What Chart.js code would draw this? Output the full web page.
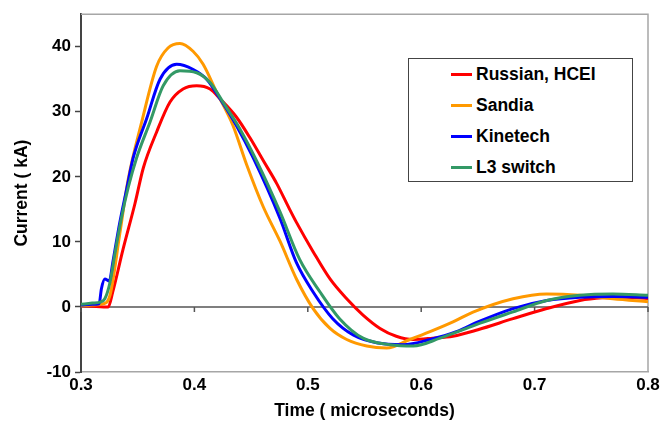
<!DOCTYPE html>
<html>
<head>
<meta charset="utf-8">
<script src="https://cdn.jsdelivr.net/npm/chart.js@4/dist/chart.umd.min.js"></script>
<style>
  html, body { margin: 0; padding: 0; background: #fff; }
  #wrap { position: relative; width: 669px; height: 429px; }
  canvas { position: absolute; left: 0; top: 0; }
  #legend { position: absolute; left: 408px; top: 58px; width: 223px; height: 122px;
            border: 1.5px solid #444; background: #fff; box-sizing: content-box;
            font: bold 17.5px "Liberation Sans", Arial, sans-serif; color: #000; }
  .row { position: absolute; left: 0; height: 20px; width: 100%; }
  .swatch { position: absolute; left: 42px; top: 9px; width: 21px; height: 3px; }
  .lbl { position: absolute; left: 67px; top: 0; white-space: nowrap; line-height: 20px; }
</style>
</head>
<body>
<div id="wrap">
  <canvas id="c" width="669" height="429"></canvas>
  <div id="legend"></div>
</div>
<script>
// ---- data ----
const seriesNames = ["Russian, HCEI", "Sandia", "Kinetech", "L3 switch"];
const seriesColors = ["#ff0000", "#ff9900", "#0000ff", "#339966"];

const russianX = [0.300,0.310,0.320,0.324,0.328,0.337,0.3476,0.355,0.3667,0.3785,0.390,0.402,0.4138,0.4226,0.437,0.449,0.4607,0.4725,0.484,0.490,0.5047,0.5196,0.5343,0.5487,0.5637,0.578,0.593,0.610,0.628,0.650,0.681,0.7107,0.740,0.760,0.780,0.800];
const russianY = [0.2,0.1,0.0,0.0,2.3,8.8,15.9,21.4,26.9,31.5,33.5,34.0,33.5,32.0,29.2,26.0,22.5,19.0,15.0,13.0,8.5,4.3,1.25,-1.25,-3.3,-4.5,-5.0,-4.8,-4.5,-3.5,-1.8,-0.25,1.0,1.4,1.5,1.3];

const sandiaX = [0.300,0.310,0.320,0.3256,0.334,0.3415,0.3535,0.3667,0.3767,0.3873,0.3988,0.4077,0.4196,0.434,0.446,0.4607,0.4755,0.490,0.5047,0.5196,0.5343,0.552,0.5696,0.590,0.6078,0.628,0.6457,0.681,0.7107,0.740,0.769,0.800];
const sandiaY = [0.2,0.3,0.5,1.8,11.0,19.5,28.4,37.0,39.8,40.5,39.3,37.3,33.0,27.9,21.9,15.4,10.1,4.3,-0.25,-3.3,-5.0,-6.0,-6.3,-5.0,-3.8,-2.3,-0.8,1.25,2.0,1.8,1.25,0.8];

const kinetechX = [0.300,0.310,0.316,0.318,0.321,0.325,0.328,0.334,0.340,0.346,0.358,0.3697,0.3844,0.399,0.4108,0.4226,0.437,0.4519,0.4755,0.490,0.5047,0.522,0.540,0.5607,0.584,0.608,0.631,0.650,0.681,0.7107,0.740,0.769,0.800];
const kinetechY = [0.3,0.4,0.5,2.8,4.3,4.0,6.8,12.8,17.9,22.9,29.0,35.0,37.3,36.5,35.0,32.0,27.9,22.9,13.6,6.8,2.3,-1.8,-4.3,-5.5,-5.8,-5.0,-3.8,-2.3,-0.25,1.0,1.5,1.6,1.5];

const l3X = [0.300,0.310,0.3168,0.321,0.3256,0.330,0.3359,0.3417,0.349,0.3608,0.3725,0.3873,0.402,0.4138,0.4255,0.440,0.455,0.4755,0.4928,0.5108,0.528,0.5487,0.5725,0.593,0.6166,0.640,0.652,0.681,0.7107,0.740,0.769,0.800];
const l3Y = [0.4,0.6,0.75,1.25,3.8,8.3,13.9,18.4,22.9,28.4,34.0,36.3,36.0,34.5,31.4,27.4,22.4,14.6,7.3,2.3,-1.8,-4.8,-5.8,-6.0,-4.8,-3.3,-2.5,-0.75,1.0,1.8,2.0,1.8];

const xTicks = [0.3, 0.4, 0.5, 0.6, 0.7, 0.8];
const yTicks = [-10, 0, 10, 20, 30, 40];

const xTitle = "Time ( microseconds)";
const yTitle = "Current ( kA)";

// ---- build ----
const xsList = [russianX, sandiaX, kinetechX, l3X];
const ysList = [russianY, sandiaY, kinetechY, l3Y];
const datasets = seriesNames.map((name, i) => ({
  label: name,
  data: xsList[i].map((x, k) => ({ x: x, y: ysList[i][k] })),
  borderColor: seriesColors[i],
  backgroundColor: seriesColors[i],
  borderWidth: 3,
  pointRadius: 0,
  fill: false,
  cubicInterpolationMode: 'monotone',
  order: seriesNames.length - i
}));

const FONT = "'Liberation Sans', Arial, sans-serif";

const framePlugin = {
  id: 'frame',
  beforeDatasetsDraw(chart) {
    const { ctx, chartArea: a, scales } = chart;
    ctx.save();
    ctx.strokeStyle = '#a6a6a6';
    ctx.lineWidth = 1.5;
    ctx.beginPath();
    ctx.moveTo(a.left, a.top); ctx.lineTo(a.right, a.top); ctx.lineTo(a.right, a.bottom);
    ctx.stroke();
    const y0 = scales.y.getPixelForValue(0);
    ctx.strokeStyle = '#555';
    ctx.lineWidth = 1.5;
    ctx.beginPath();
    ctx.moveTo(a.left, y0); ctx.lineTo(a.right, y0);
    xTicks.forEach(v => {
      const px = scales.x.getPixelForValue(v);
      ctx.moveTo(px, y0); ctx.lineTo(px, y0 + 5);
    });
    ctx.stroke();
    ctx.restore();
  }
};

new Chart(document.getElementById('c'), {
  type: 'line',
  data: { datasets },
  plugins: [framePlugin],
  options: {
    responsive: false,
    animation: false,
    layout: { padding: { left: 0, top: 7, right: 21, bottom: 0 } },
    plugins: { legend: { display: false }, tooltip: { enabled: false } },
    scales: {
      x: {
        type: 'linear',
        min: 0.3, max: 0.8,
        afterBuildTicks: s => { s.ticks = xTicks.map(v => ({ value: v })); },
        afterFit: s => { s.height = 57; },
        ticks: {
          callback: v => Number(v).toFixed(1),
          font: { family: FONT, size: 17, weight: 'bold' },
          color: '#000', padding: 3, maxRotation: 0
        },
        grid: { display: false, drawTicks: false },
        border: { display: true, color: '#a6a6a6', width: 1.5 },
        title: {
          display: true, text: xTitle,
          font: { family: FONT, size: 17.5, weight: 'bold' }, color: '#000',
          padding: { top: 10, bottom: 7 }
        }
      },
      y: {
        type: 'linear',
        min: -10, max: 45,
        afterBuildTicks: s => { s.ticks = yTicks.map(v => ({ value: v })); },
        afterFit: s => { s.width = 81; },
        ticks: {
          font: { family: FONT, size: 17, weight: 'bold' },
          color: '#000', padding: 4
        },
        grid: { drawOnChartArea: false, drawTicks: true, tickLength: 6, tickColor: '#444', tickWidth: 1.5 },
        border: { display: true, color: '#444', width: 2 },
        title: {
          display: true, text: yTitle,
          font: { family: FONT, size: 17.5, weight: 'bold' }, color: '#000',
          padding: { top: 12, bottom: 6 }
        }
      }
    }
  }
});

// HTML legend built from the series
const leg = document.getElementById('legend');
const rowTops = [5, 36, 67, 98];
seriesNames.forEach((name, i) => {
  const r = document.createElement('div');
  r.className = 'row';
  r.style.top = rowTops[i] + 'px';
  r.innerHTML = '<span class="swatch" style="background:' + seriesColors[i] + '"></span><span class="lbl">' + name + '</span>';
  leg.appendChild(r);
});
</script>
</body>
</html>
